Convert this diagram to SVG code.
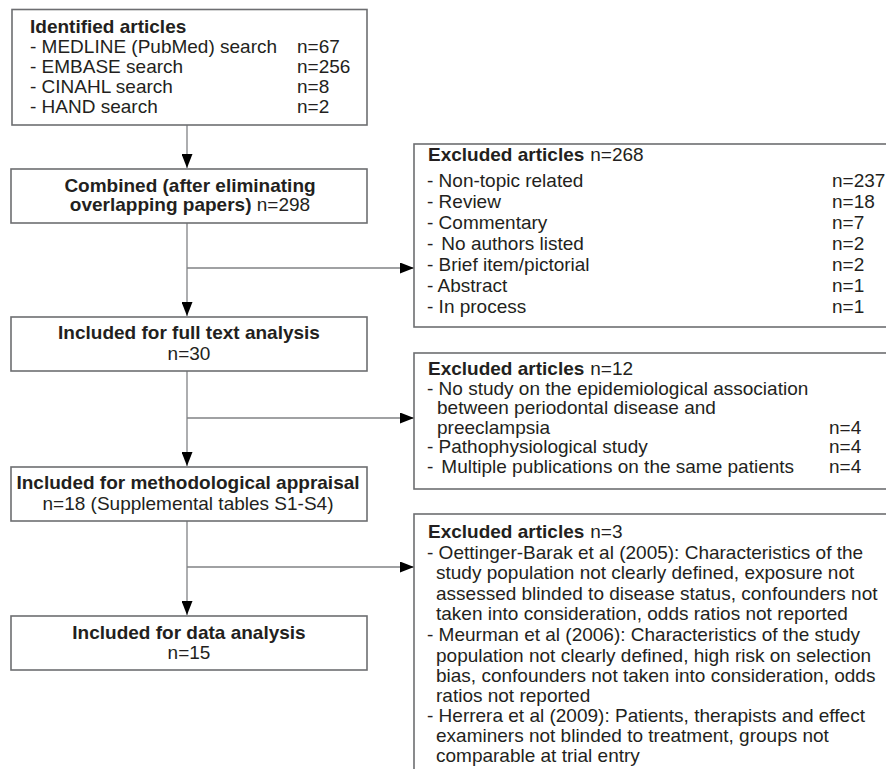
<svg xmlns="http://www.w3.org/2000/svg" width="886" height="769" viewBox="0 0 886 769">
<defs>
<marker id="ah" markerUnits="userSpaceOnUse" markerWidth="14" markerHeight="11" refX="14" refY="5.5" orient="auto"><path d="M0,0 L14,5.5 L0,11 Z" fill="#000"/></marker>
</defs>
<style>
.box{fill:#fff;stroke:#6d6e71;stroke-width:1.6}
.t{font-family:"Liberation Sans",Arial,sans-serif;font-size:19px;fill:#231f20}
.b{font-weight:bold}
.c{text-anchor:middle}
.con{stroke:#808285;stroke-width:1.3;fill:none}
</style>
<rect width="886" height="769" fill="#fff"/>
<g id="connectors">
<line class="con" x1="187" y1="125" x2="187" y2="168" marker-end="url(#ah)"/>
<line class="con" x1="187" y1="223" x2="187" y2="316" marker-end="url(#ah)"/>
<line class="con" x1="187" y1="268" x2="414" y2="268" marker-end="url(#ah)"/>
<line class="con" x1="187" y1="371" x2="187" y2="466" marker-end="url(#ah)"/>
<line class="con" x1="187" y1="418" x2="414" y2="418" marker-end="url(#ah)"/>
<line class="con" x1="187" y1="521" x2="187" y2="615" marker-end="url(#ah)"/>
<line class="con" x1="187" y1="567" x2="414" y2="567" marker-end="url(#ah)"/>
</g>
<g id="identified">
<rect class="box" x="12" y="9.5" width="355" height="115.5"/>
<text class="t b" x="30" y="33">Identified articles</text>
<text class="t" x="30" y="53">- MEDLINE (PubMed) search</text>
<text class="t" x="30" y="73">- EMBASE search</text>
<text class="t" x="30" y="93">- CINAHL search</text>
<text class="t" x="30" y="113">- HAND search</text>
<text class="t" x="297" y="53">n=67</text>
<text class="t" x="297" y="73">n=256</text>
<text class="t" x="297" y="93">n=8</text>
<text class="t" x="297" y="113">n=2</text>
</g>
<g id="combined">
<rect class="box" x="11" y="169" width="356" height="54"/>
<text class="t b c" x="190" y="192">Combined (after eliminating</text>
<text class="t c" x="190" y="211"><tspan class="b">overlapping papers)</tspan> n=298</text>
</g>
<g id="fulltext">
<rect class="box" x="11" y="317" width="356" height="54"/>
<text class="t b c" x="189" y="339">Included for full text analysis</text>
<text class="t c" x="189" y="360">n=30</text>
</g>
<g id="appraisal">
<rect class="box" x="11" y="467" width="356" height="54"/>
<text class="t b c" x="188" y="489">Included for methodological appraisal</text>
<text class="t c" x="188" y="510">n=18 (Supplemental tables S1-S4)</text>
</g>
<g id="dataanalysis">
<rect class="box" x="11" y="616" width="356" height="54"/>
<text class="t b c" x="189" y="639">Included for data analysis</text>
<text class="t c" x="189" y="659">n=15</text>
</g>
<g id="excluded1">
<rect class="box" x="414" y="144" width="480" height="183"/>
<text class="t" x="428" y="161"><tspan class="b">Excluded articles</tspan><tspan dx="6">n=268</tspan></text>
<text class="t" x="427" y="187">- Non-topic related</text>
<text class="t" x="427" y="208">- Review</text>
<text class="t" x="427" y="229">- Commentary</text>
<text class="t" x="427" y="250">-<tspan dx="8">No authors listed</tspan></text>
<text class="t" x="427" y="271">- Brief item/pictorial</text>
<text class="t" x="427" y="292">- Abstract</text>
<text class="t" x="427" y="313">- In process</text>
<text class="t" x="832" y="187">n=237</text>
<text class="t" x="832" y="208">n=18</text>
<text class="t" x="832" y="229">n=7</text>
<text class="t" x="832" y="250">n=2</text>
<text class="t" x="832" y="271">n=2</text>
<text class="t" x="832" y="292">n=1</text>
<text class="t" x="832" y="313">n=1</text>
</g>
<g id="excluded2">
<rect class="box" x="414" y="353" width="480" height="136"/>
<text class="t" x="428" y="375"><tspan class="b">Excluded articles</tspan><tspan dx="6">n=12</tspan></text>
<text class="t" x="427" y="395">- No study on the epidemiological association</text>
<text class="t" x="437" y="414">between periodontal disease and</text>
<text class="t" x="437" y="434">preeclampsia</text>
<text class="t" x="427" y="453">- Pathophysiological study</text>
<text class="t" x="427" y="473">-<tspan dx="8">Multiple publications on the same patients</tspan></text>
<text class="t" x="829" y="434">n=4</text>
<text class="t" x="829" y="453">n=4</text>
<text class="t" x="829" y="473">n=4</text>
</g>
<g id="excluded3">
<rect class="box" x="414" y="514" width="480" height="270"/>
<text class="t" x="428" y="538"><tspan class="b">Excluded articles</tspan><tspan dx="6">n=3</tspan></text>
<text class="t" x="427" y="559">- Oettinger-Barak et al (2005): Characteristics of the</text>
<text class="t" x="436" y="579">study population not clearly defined, exposure not</text>
<text class="t" x="436" y="600">assessed blinded to disease status, confounders not</text>
<text class="t" x="436" y="620">taken into consideration, odds ratios not reported</text>
<text class="t" x="427" y="641">- Meurman et al (2006): Characteristics of the study</text>
<text class="t" x="436" y="662">population not clearly defined, high risk on selection</text>
<text class="t" x="436" y="682">bias, confounders not taken into consideration, odds</text>
<text class="t" x="436" y="702">ratios not reported</text>
<text class="t" x="427" y="722">- Herrera et al (2009): Patients, therapists and effect</text>
<text class="t" x="436" y="742">examiners not blinded to treatment, groups not</text>
<text class="t" x="436" y="762">comparable at trial entry</text>
</g>
</svg>
